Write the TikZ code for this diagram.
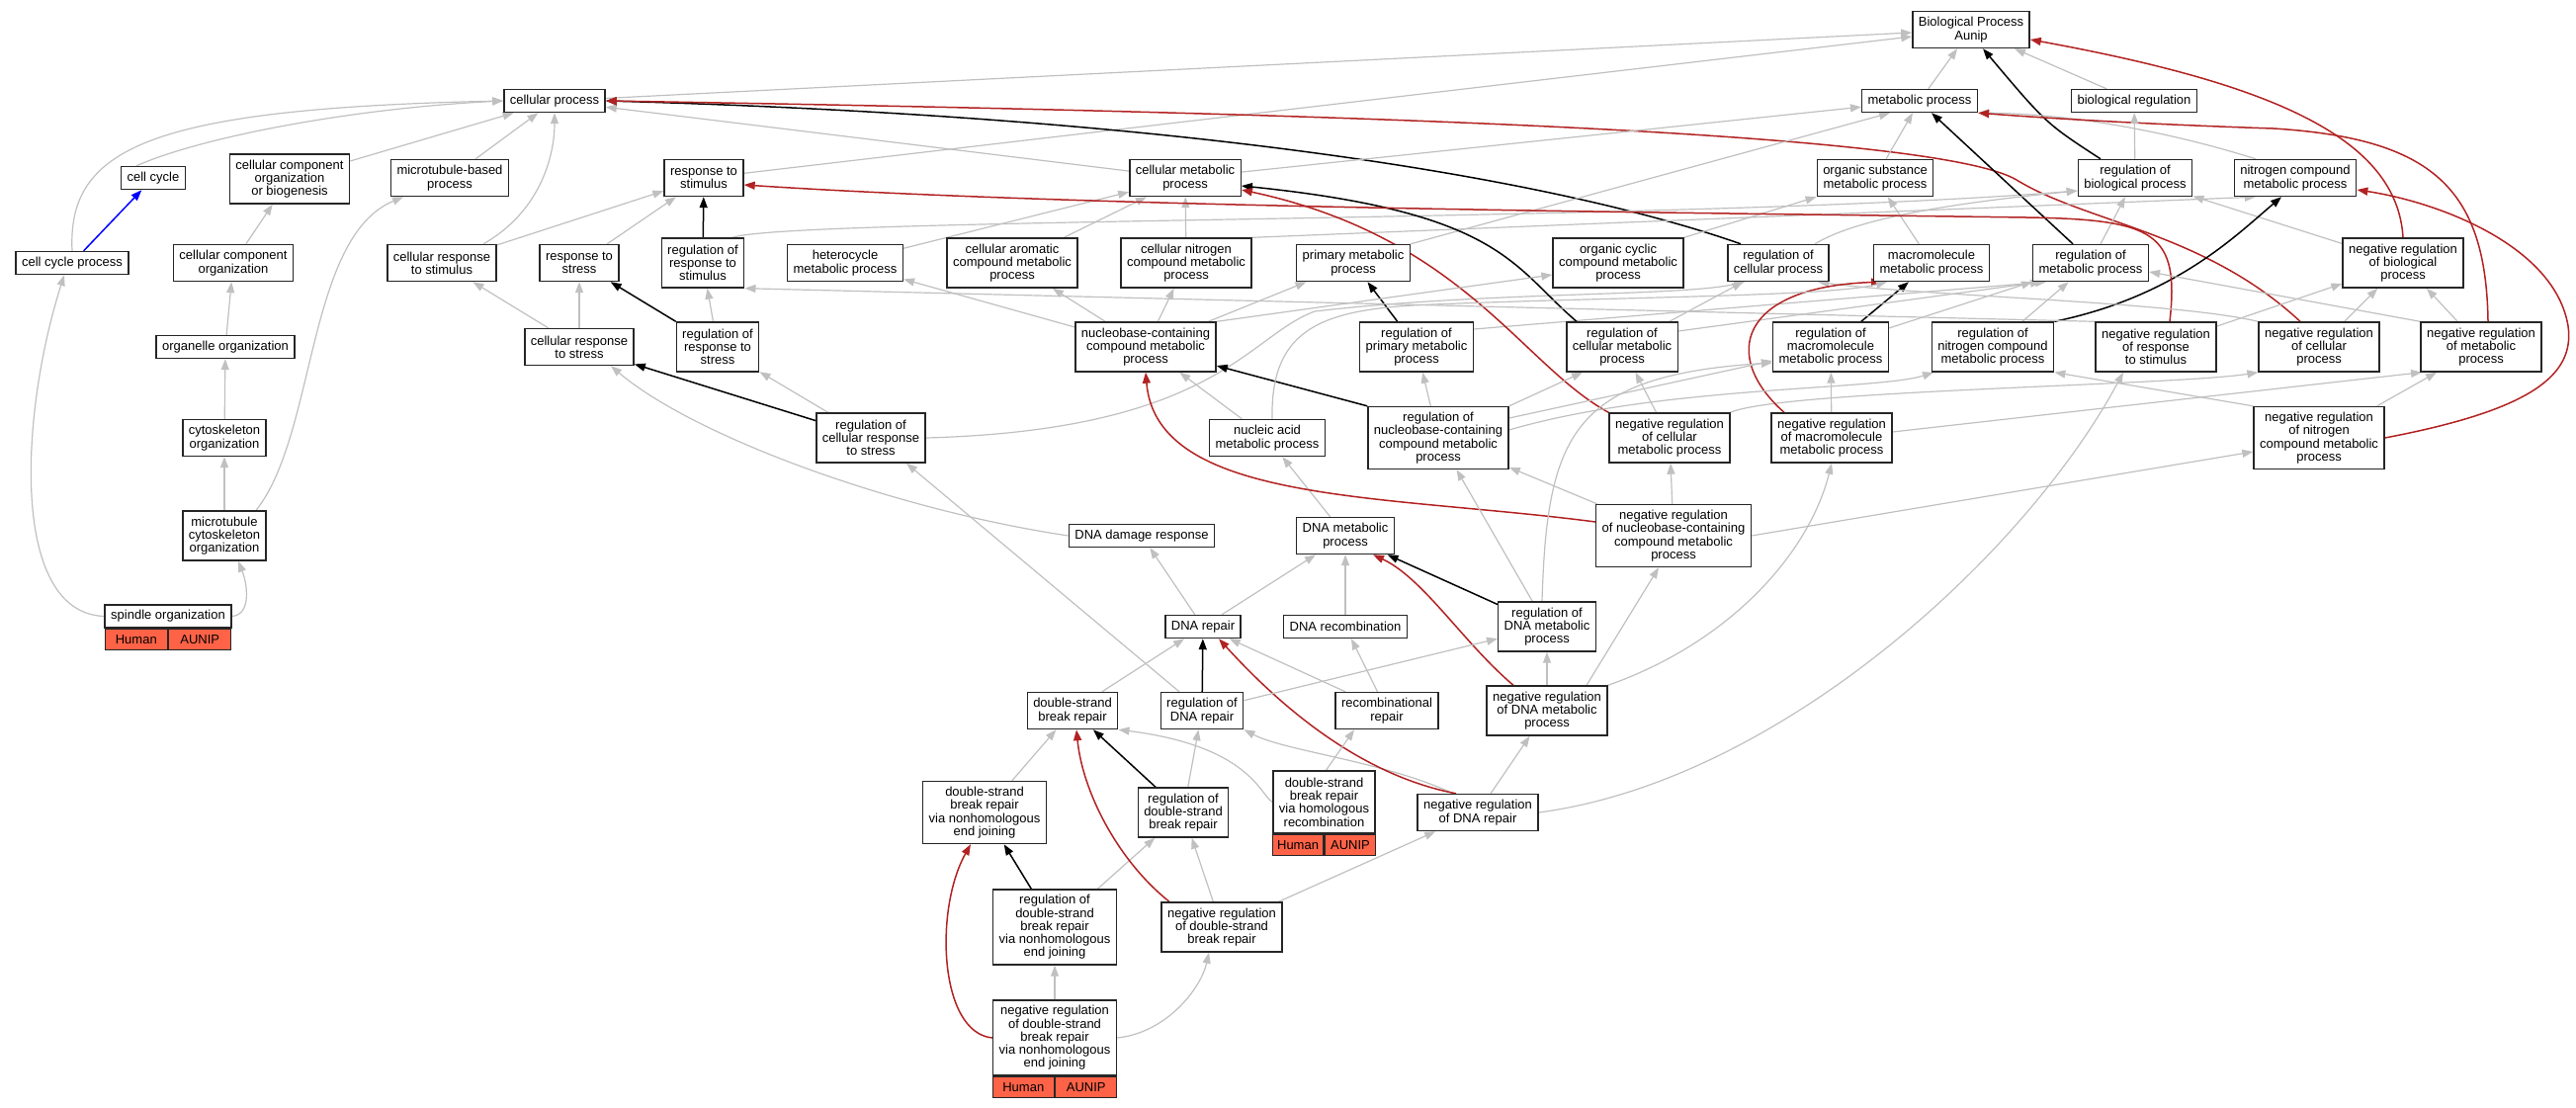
\documentclass[tikz,border=0pt]{standalone}
\usepackage{fontspec}
\setmainfont{Liberation Sans}
\usetikzlibrary{arrows.meta}
\definecolor{edgegray}{RGB}{192,192,192}
\definecolor{negred}{RGB}{178,34,34}
\definecolor{genefill}{RGB}{255,99,71}
\pgfdeclarelayer{edges}
\pgfsetlayers{edges,main}
\tikzset{
  term/.style={draw=black!85, line width=1.4pt, fill=white, align=center, inner xsep=6pt, inner ysep=0pt,
    font=\fontsize{13}{13.3}\selectfont},
  oneline/.style={minimum height=23pt},
  twoline/.style={minimum height=37pt},
  threeline/.style={minimum height=50pt},
  fourline/.style={minimum height=63pt},
  fiveline/.style={minimum height=76pt},
  gene/.style={draw=black!85, line width=1.4pt, fill=genefill, inner sep=0pt, minimum height=21pt,
    font=\fontsize{13}{13.3}\selectfont},
  isa/.style={draw=edgegray, line width=1.2pt, -{Triangle[length=11pt,width=8pt]}},
  reg/.style={draw=black, line width=1.5pt, -{Triangle[length=11pt,width=8pt]}},
  negreg/.style={draw=negred, line width=1.5pt, -{Triangle[length=11pt,width=8pt]}},
  partof/.style={draw=blue, line width=1.5pt, -{Triangle[length=11pt,width=8pt]}}
}
\begin{document}
\begin{tikzpicture}[x=1pt,y=-1pt]
\useasboundingbox (0,0) rectangle (2606,1120);
% terms, top to bottom
\node[term,twoline] (bp) at (1994,30) {Biological Process\\Aunip};
\node[term,oneline] (cp) at (561,102) {cellular process};
\node[term,oneline] (mp) at (1942,102) {metabolic process};
\node[term,oneline] (br) at (2159,102) {biological regulation};
\node[term,oneline] (cc) at (155,180) {cell cycle};
\node[term,threeline] (ccob) at (293,181) {cellular component\\organization\\or biogenesis};
\node[term,twoline] (mbp) at (455,180) {microtubule-based\\process};
\node[term,twoline] (rts) at (712,180) {response to\\stimulus};
\node[term,twoline] (cmp) at (1199,180) {cellular metabolic\\process};
\node[term,twoline] (osmp) at (1897,180) {organic substance\\metabolic process};
\node[term,twoline] (rbp) at (2160,180) {regulation of\\biological process};
\node[term,twoline] (ncmp) at (2322,180) {nitrogen compound\\metabolic process};
\node[term,oneline] (ccp) at (73,266) {cell cycle process};
\node[term,twoline] (cco) at (236,266) {cellular component\\organization};
\node[term,twoline] (crs) at (447,266) {cellular response\\to stimulus};
\node[term,twoline] (rtst) at (586,266) {response to\\stress};
\node[term,threeline] (rrs) at (711,266) {regulation of\\response to\\stimulus};
\node[term,twoline] (hmp) at (855,266) {heterocycle\\metabolic process};
\node[term,threeline] (camp) at (1024,266) {cellular aromatic\\compound metabolic\\process};
\node[term,threeline] (cncmp) at (1200,266) {cellular nitrogen\\compound metabolic\\process};
\node[term,twoline] (pmp) at (1369,266) {primary metabolic\\process};
\node[term,threeline] (occmp) at (1637,266) {organic cyclic\\compound metabolic\\process};
\node[term,twoline] (rcp) at (1799,266) {regulation of\\cellular process};
\node[term,twoline] (mmp) at (1954,266) {macromolecule\\metabolic process};
\node[term,twoline] (rmp) at (2115,266) {regulation of\\metabolic process};
\node[term,threeline] (nrbp) at (2431,266) {negative regulation\\of biological\\process};
\node[term,oneline] (oo) at (228,351) {organelle organization};
\node[term,twoline] (crst) at (586,351) {cellular response\\to stress};
\node[term,threeline] (rrst) at (726,351) {regulation of\\response to\\stress};
\node[term,threeline] (nbcmp) at (1159,351) {nucleobase-containing\\compound metabolic\\process};
\node[term,threeline] (rpmp) at (1433,351) {regulation of\\primary metabolic\\process};
\node[term,threeline] (rcmp) at (1641,351) {regulation of\\cellular metabolic\\process};
\node[term,threeline] (rmmp) at (1852,351) {regulation of\\macromolecule\\metabolic process};
\node[term,threeline] (rncmp) at (2016,351) {regulation of\\nitrogen compound\\metabolic process};
\node[term,threeline] (nrrs) at (2181,351) {negative regulation\\of response\\to stimulus};
\node[term,threeline] (nrcp) at (2346,351) {negative regulation\\of cellular\\process};
\node[term,threeline] (nrmp) at (2510,351) {negative regulation\\of metabolic\\process};
\node[term,twoline] (co) at (227,443) {cytoskeleton\\organization};
\node[term,threeline] (rcrs) at (881,443) {regulation of\\cellular response\\to stress};
\node[term,twoline] (namp) at (1282,443) {nucleic acid\\metabolic process};
\node[term,fourline] (rnbcmp) at (1455,443) {regulation of\\nucleobase-containing\\compound metabolic\\process};
\node[term,threeline] (nrcmp) at (1689,443) {negative regulation\\of cellular\\metabolic process};
\node[term,threeline] (nrmmp) at (1853,443) {negative regulation\\of macromolecule\\metabolic process};
\node[term,fourline] (nrncmp) at (2346,443) {negative regulation\\of nitrogen\\compound metabolic\\process};
\node[term,threeline] (mco) at (227,542) {microtubule\\cytoskeleton\\organization};
\node[term,oneline] (ddr) at (1155,542) {DNA damage response};
\node[term,twoline] (dmp) at (1361,542) {DNA metabolic\\process};
\node[term,fourline] (nrnbcmp) at (1693,542) {negative regulation\\of nucleobase-containing\\compound metabolic\\process};
\node[term,oneline,minimum width=126pt] (so) at (170,623.5) {spindle organization};
\node[gene,minimum width=63pt,anchor=north east] (soh) at (so.south) {Human};
\node[gene,minimum width=63pt,anchor=north west] (soa) at (so.south) {AUNIP};
\node[term,oneline] (dr) at (1217,634) {DNA repair};
\node[term,oneline] (drec) at (1361,634) {DNA recombination};
\node[term,threeline] (rdmp) at (1565,634) {regulation of\\DNA metabolic\\process};
\node[term,twoline] (dsbr) at (1085,719) {double-strand\\break repair};
\node[term,twoline] (rdr) at (1216,719) {regulation of\\DNA repair};
\node[term,twoline] (rr) at (1403,719) {recombinational\\repair};
\node[term,threeline] (nrdmp) at (1565,719) {negative regulation\\of DNA metabolic\\process};
\node[term,fourline] (nhej) at (996,822) {double-strand\\break repair\\via nonhomologous\\end joining};
\node[term,threeline] (rdsbr) at (1197,822) {regulation of\\double-strand\\break repair};
\node[term,fourline,minimum width=103pt] (hr) at (1339.5,811.5) {double-strand\\break repair\\via homologous\\recombination};
\node[gene,minimum width=51.5pt,anchor=north east] (hrh) at (hr.south) {Human};
\node[gene,minimum width=51.5pt,anchor=north west] (hra) at (hr.south) {AUNIP};
\node[term,twoline] (nrdr) at (1495,822) {negative regulation\\of DNA repair};
\node[term,fiveline] (rnhej) at (1067,938) {regulation of\\double-strand\\break repair\\via nonhomologous\\end joining};
\node[term,threeline] (nrdsbr) at (1236,938) {negative regulation\\of double-strand\\break repair};
\node[term,fiveline,minimum width=124pt] (nrnhej) at (1067,1050) {negative regulation\\of double-strand\\break repair\\via nonhomologous\\end joining};
\node[gene,minimum width=62pt,anchor=north east] (nrnhejh) at (nrnhej.south) {Human};
\node[gene,minimum width=62pt,anchor=north west] (nrnheja) at (nrnhej.south) {AUNIP};
\begin{pgfonlayer}{edges}
% root
\draw[isa] (cp) -- (bp);
\draw[isa] (rts) -- (bp);
\draw[isa] (mp) -- (bp);
\draw[isa] (br) -- (bp);
\draw[reg] ([xshift=-35pt]rbp.north) .. controls (2070,125) .. ([xshift=12pt]bp.south);
\draw[negreg] (nrbp.north) .. controls (2425,140) and (2300,85) .. ([yshift=-10pt]bp.east);
% cellular process
\draw[isa] ([xshift=-17pt]cc.north) .. controls (200,140) and (350,110) .. (cp.west);
\draw[isa] (ccp.north) .. controls (68,150) and (150,110) .. (cp.west);
\draw[isa] (ccob) -- (cp);
\draw[isa] (mbp) -- (cp);
\draw[isa] ([xshift=42pt]crs.north) .. controls (545,215) and (561,160) .. (cp.south);
\draw[isa] (cmp) -- (cp);
\draw[reg] ([xshift=-38pt]rcp.north) .. controls (1600,190) and (1250,120) .. (cp.east);
\draw[negreg] ([xshift=-19pt]nrcp.north) .. controls (2230,235) and (2110,225) .. (2040,182) .. controls (1960,135) and (1400,115) .. (cp.east);
\draw[partof] (ccp) -- (cc);
% organization
\draw[isa] (cco) -- (ccob);
\draw[isa] (oo) -- (cco);
\draw[isa] (co) -- (oo);
\draw[isa] (mco) -- (co);
\draw[isa] ([xshift=32pt]mco.north) .. controls (320,440) and (310,240) .. ([xshift=-47pt]mbp.south);
\draw[isa] (so.east) .. controls (255,622) and (250,590) .. ([xshift=14pt]mco.south);
\draw[isa] (so.west) .. controls (10,620) and (20,420) .. ([xshift=-8pt]ccp.south);
% stimulus and stress
\draw[isa] (crs) -- (rts);
\draw[isa] (rtst) -- (rts);
\draw[isa] (crst) -- (crs);
\draw[isa] (crst) -- (rtst);
\draw[reg] (rrs) -- (rts);
\draw[isa] ([xshift=30pt]rrs.north) .. controls (800,220) and (1700,225) .. ([yshift=-13pt]rbp.west);
\draw[isa] (rrst) -- (rrs);
\draw[reg] (rrst) -- (rtst);
\draw[isa] (rcrs) -- (rrst);
\draw[reg] (rcrs) -- (crst);
\draw[isa] (rcrs.east) .. controls (1230,435) and (1262,340) .. (1330,315) .. controls (1500,295) and (1700,300) .. ([xshift=-34pt]rcp.south);
% metabolic
\draw[isa] (hmp) -- (cmp);
\draw[isa] (camp) -- (cmp);
\draw[isa] (cncmp) -- (cmp);
\draw[isa] (cncmp.north east) -- ([xshift=-40pt]ncmp.south);
\draw[isa] (cmp) -- (mp);
\draw[isa] (pmp.north east) -- ([xshift=-30pt]mp.south);
\draw[isa] (occmp.north east) -- (osmp.south west);
\draw[isa] (osmp) -- (mp);
\draw[isa] (mmp) -- (osmp);
\draw[isa] ([xshift=-40pt]ncmp.north) .. controls (2200,135) and (2100,115) .. (mp.south east);
\draw[reg] ([xshift=-18pt]rmp.north) -- ([xshift=12pt]mp.south);
\draw[negreg] ([xshift=7pt]nrmp.north) .. controls (2515,190) and (2460,140) .. (2300,130) .. controls (2150,125) and (2050,118) .. (mp.south east);
\draw[isa] (rbp) -- (br);
\draw[isa] (rmp) -- (rbp);
\draw[isa] ([xshift=37pt]rcp.north) .. controls (1880,220) and (1980,205) .. ([yshift=-13pt]rbp.west);
\draw[isa] (nrbp) -- (rbp);
\draw[reg] (rmmp) -- (mmp);
\draw[isa] (rmmp) -- (rmp);
\draw[reg] (rpmp) -- (pmp);
\draw[isa] ([yshift=18pt]rpmp.east) -- ([xshift=-45pt]rmp.south);
\draw[reg] ([xshift=-46pt]rcmp.north) .. controls (1530,270) and (1520,215) .. ([yshift=-8pt]cmp.east);
\draw[negreg] (nrcmp.north west) .. controls (1540,370) and (1480,240) .. ([yshift=-12pt]cmp.east);
\draw[isa] (rcmp) -- (rcp);
\draw[isa] ([yshift=16pt]rcmp.east) -- ([xshift=-50pt]rmp.south);
\draw[reg] (rncmp.north east) .. controls (2200,300) and (2260,240) .. ([xshift=-14pt]ncmp.south);
\draw[isa] (rncmp) -- (rmp);
\draw[negreg] ([xshift=14pt]nrrs.north) .. controls (2205,235) and (2180,222) .. (2050,220) .. controls (1700,215) and (1100,210) .. ([yshift=-7pt]rts.east);
\draw[isa] (nrrs) -- (nrbp);
\draw[isa] (nrrs.north west) -- (rrs.south east);
\draw[isa] (nrcp) -- (nrbp);
\draw[isa] (nrcp.north west) .. controls (2200,305) and (1950,300) .. ([xshift=40pt]rcp.south);
\draw[isa] (nrmp) -- (nrbp);
\draw[isa] (nrmp.north west) -- ([yshift=-9pt]rmp.east);
\draw[isa] (nrcmp) -- (rcmp);
\draw[isa] (nrcmp.north east) .. controls (1800,395) and (2200,390) .. (nrcp.south west);
\draw[isa] (nrmmp) -- (rmmp);
\draw[negreg] ([xshift=-48pt]nrmmp.north) .. controls (1740,360) and (1760,290) .. ([xshift=-50pt]mmp.south);
\draw[isa] ([yshift=6pt]nrmmp.east) -- ([xshift=-60pt]nrmp.south);
% nucleobase and nucleic acid
\draw[isa] (nbcmp) -- (hmp);
\draw[isa] (nbcmp) -- (camp);
\draw[isa] (nbcmp) -- (cncmp);
\draw[isa] (nbcmp) -- (pmp);
\draw[isa] (nbcmp.north east) -- ([yshift=-12pt]occmp.west);
\draw[reg] (rnbcmp.north west) -- ([yshift=-19pt]nbcmp.east);
\draw[isa] (rnbcmp) -- (rpmp);
\draw[isa] (rnbcmp.north east) -- ([xshift=-40pt]rcmp.south);
\draw[isa] ([yshift=20pt]rnbcmp.east) -- ([yshift=-14pt]rmmp.west);
\draw[isa] ([yshift=8pt]rnbcmp.east) .. controls (1680,390) and (1900,395) .. ([xshift=-60pt]rncmp.south);
\draw[isa] (namp) -- (nbcmp);
\draw[isa] ([xshift=5pt]namp.north) .. controls (1285,330) and (1340,312) .. (1450,308) .. controls (1650,300) and (1850,300) .. ([xshift=-45pt]mmp.south);
\draw[isa] (dmp) -- (namp);
\draw[isa] (ddr.west) .. controls (900,515) and (700,440) .. ([xshift=32pt]crst.south);
\draw[isa] (nrnbcmp) -- (rnbcmp);
\draw[isa] (nrnbcmp) -- (nrcmp);
\draw[negreg] ([yshift=14pt]nrnbcmp.west) .. controls (1400,500) and (1170,510) .. (nbcmp.south);
\draw[isa] (nrnbcmp.east) -- ([yshift=-14pt]nrncmp.west);
\draw[isa] (nrncmp.north west) -- (rncmp.south east);
\draw[isa] ([xshift=-8pt]nrncmp.north east) -- ([xshift=-45pt]nrmp.south);
\draw[negreg] (nrncmp.east) .. controls (2560,415) and (2605,380) .. (2598,330) .. controls (2585,250) and (2470,205) .. ([yshift=-12pt]ncmp.east);
% DNA metabolism
\draw[isa] (dr) -- (ddr);
\draw[isa] (dr) -- (dmp);
\draw[isa] (drec) -- (dmp);
\draw[reg] (rdmp) -- (dmp);
\draw[negreg] ([xshift=-34pt]nrdmp.north) .. controls (1480,650) and (1440,585) .. ([xshift=28pt]dmp.south);
\draw[isa] (rdmp) -- (rnbcmp);
\draw[isa] ([xshift=-5pt]rdmp.north) .. controls (1565,440) and (1590,380) .. ([yshift=-16pt]rmmp.west);
\draw[isa] (nrdmp) -- (rdmp);
\draw[isa] ([xshift=40pt]nrdmp.north) -- ([xshift=-15pt]nrnbcmp.south);
\draw[isa] (nrdmp.north east) .. controls (1750,650) and (1830,560) .. (nrmmp.south);
\draw[isa] (nrdr.east) .. controls (1800,790) and (2050,560) .. ([xshift=-33pt]nrrs.south);
\draw[isa] ([xshift=-25pt]nrdr.north) .. controls (1400,770) and (1300,760) .. (rdr.south east);
\draw[negreg] ([xshift=-22pt]nrdr.north) .. controls (1380,785) and (1300,720) .. ([xshift=16pt]dr.south);
\draw[isa] (nrdr) -- (nrdmp);
\draw[isa] ([xshift=2pt]hr.north) -- ([xshift=-33pt]rr.south);
\draw[isa] (hr.west) .. controls (1275,805) and (1265,755) .. (dsbr.south east);
\draw[isa] (rr) -- (dr);
\draw[isa] (rr) -- (drec);
\draw[isa] (dsbr) -- (dr);
\draw[reg] (rdr) -- (dr);
\draw[isa] ([xshift=-23pt]rdr.north) -- ([xshift=36pt]rcrs.south);
\draw[isa] (rdr) -- (rdmp);
% double-strand break repair
\draw[isa] (nhej) -- (dsbr);
\draw[reg] (rdsbr) -- (dsbr);
\draw[isa] (rdsbr) -- (rdr);
\draw[reg] (rnhej) -- (nhej);
\draw[isa] (rnhej) -- (rdsbr);
\draw[isa] (nrdsbr) -- (rdsbr);
\draw[negreg] ([xshift=-53pt]nrdsbr.north) .. controls (1130,870) and (1095,800) .. ([xshift=4pt]dsbr.south);
\draw[isa] (nrdsbr) -- (nrdr);
\draw[isa] (nrnhej) -- (rnhej);
\draw[negreg] (nrnhej.west) .. controls (950,1045) and (945,920) .. ([xshift=-14pt]nhej.south);
\draw[isa] (nrnhej.east) .. controls (1180,1045) and (1215,1000) .. ([xshift=-13pt]nrdsbr.south);
\end{pgfonlayer}
\end{tikzpicture}
\end{document}
